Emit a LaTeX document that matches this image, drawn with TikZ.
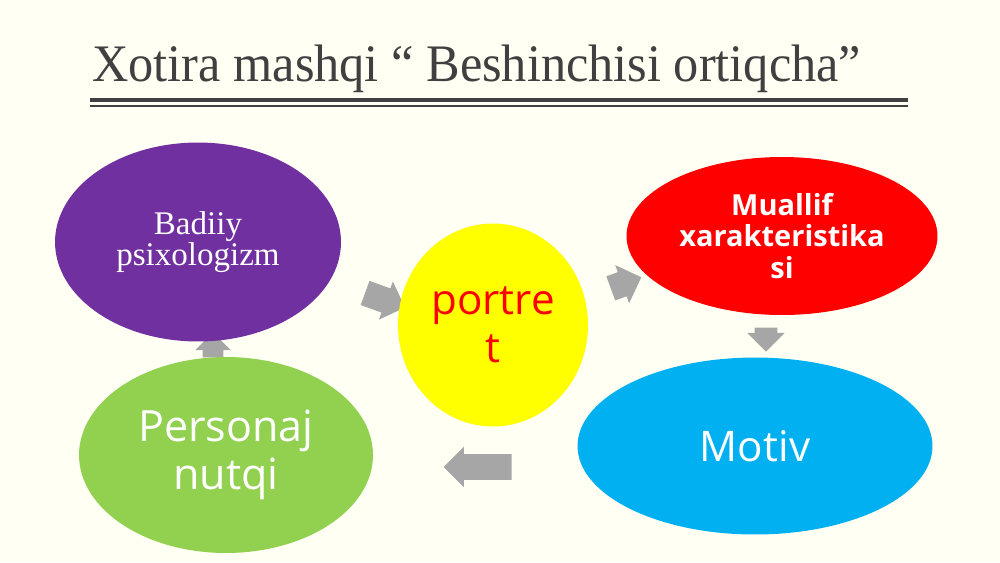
\documentclass[tikz,border=0pt]{standalone}
\usepackage{fontspec}
\setmainfont{Liberation Serif}
\newfontfamily\opensans{Open Sans}
\usetikzlibrary{shapes.geometric,shapes.arrows}
\definecolor{cream1}{HTML}{FFFFF4}
\definecolor{gray4}{HTML}{404040}
\definecolor{gray6}{HTML}{A6A6A6}
\definecolor{purple7}{HTML}{7030A0}
\definecolor{yellow1}{HTML}{FFFF00}
\definecolor{red1}{HTML}{FF0000}
\definecolor{blue5}{HTML}{00B0F0}
\definecolor{green5}{HTML}{92D050}
\tikzset{
  bubble/.style={ellipse, inner sep=0pt, align=center, text=white},
  blockarrow/.style={single arrow, fill=gray6, inner xsep=0pt, inner ysep=0.25cm,
    single arrow head extend=0.15cm}
}

\begin{document}
\begin{tikzpicture}[x=0.02cm,y=-0.02cm]
\fill [cream1] (0,0) rectangle (1000,562);
\node [anchor=base west, inner sep=0, text=gray4, xscale=0.955, font=\fontsize{30}{36}\selectfont] (title) at (92,81) {Xotira mashqi “ Beshinchisi ortiqcha”};
\draw [gray4, line width=1.8pt] (90,100) -- (908,100);
\draw [gray4, line width=0.6pt] (90,106) -- (908,106);
% arrows between the bubbles
\node [blockarrow, minimum height=0.85cm, rotate=-20] (a1) at (379,298) {};
\node [blockarrow, minimum height=0.65cm, rotate=20] (a2) at (620,285) {};
\node [blockarrow, minimum height=0.48cm, inner ysep=0.22cm, rotate=-90] (a3) at (766,334) {};
\node [blockarrow, minimum height=1.36cm, rotate=180] (a4) at (484,467) {};
\node [blockarrow, minimum height=0.5cm, inner ysep=0.2cm, rotate=90] (a5) at (213,350) {};
% bubbles
\node [bubble, fill=purple7, minimum width=5.72cm, minimum height=3.98cm,
  font=\fontsize{18.8}{17.5}\selectfont] (badiiy) at (198,242) {Badiiy\\psixologizm};
\node [bubble, fill=yellow1, text=red1, minimum width=3.8cm, minimum height=4.06cm,
  font=\opensans\fontsize{24}{27}\selectfont] (portret) at (493,325) {portre\\t};
\node [bubble, fill=red1, minimum width=6.22cm, minimum height=3.16cm,
  font=\opensans\bfseries\fontsize{16.5}{18}\selectfont] (muallif) at (782,236) {Muallif\\xarakteristika\\si};
\node [bubble, fill=blue5, minimum width=7.1cm, minimum height=3.54cm,
  font=\opensans\fontsize{24}{27}\selectfont] (motiv) at (755,446) {Motiv};
\node [bubble, fill=green5, minimum width=5.88cm, minimum height=3.92cm,
  font=\opensans\fontsize{24.5}{27}\selectfont] (personaj) at (226,455) {Personaj\\nutqi};
\end{tikzpicture}
\end{document}
